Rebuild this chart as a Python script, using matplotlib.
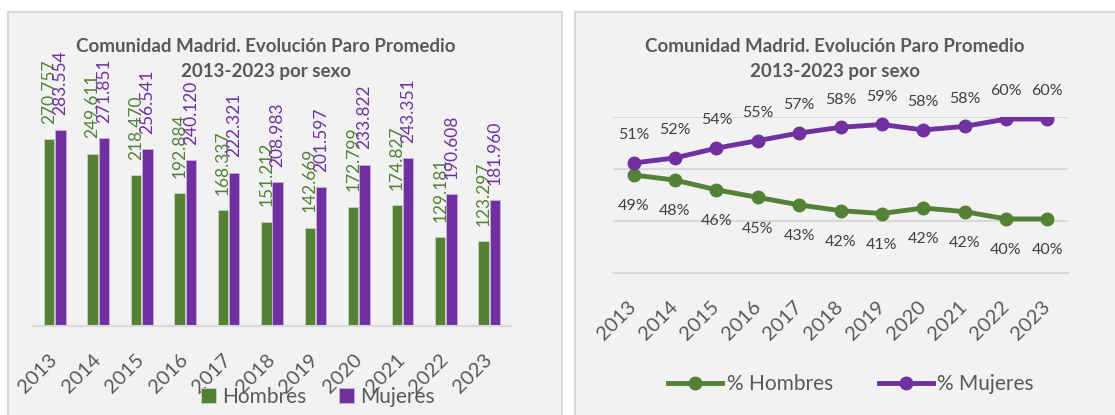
import matplotlib.pyplot as plt
from matplotlib.patches import Rectangle
from matplotlib.lines import Line2D

plt.rcParams['font.family'] = ['Lato', 'DejaVu Sans']

# Datos
anios = ['2013', '2014', '2015', '2016', '2017', '2018', '2019', '2020', '2021', '2022', '2023']
hombres = [270757, 249611, 218470, 192884, 168337, 151212, 142669, 172799, 174827, 129181, 123297]
mujeres = [283554, 271851, 256541, 240120, 222321, 208983, 201597, 233822, 243351, 190608, 181960]
pct_hombres = [0.48846, 0.47868, 0.45993, 0.44545, 0.43091, 0.41980, 0.41442, 0.42496, 0.41807, 0.40396, 0.40391]
pct_mujeres = [0.51154, 0.52132, 0.54007, 0.55455, 0.56909, 0.58020, 0.58558, 0.57504, 0.58193, 0.59604, 0.59609]

titulo = 'Comunidad Madrid. Evolución Paro Promedio\n2013-2023 por sexo'
verde = '#538135'
morado = '#7030A0'
gris_texto = '#595959'
gris_linea = '#d9d9d9'
fondo = '#f2f2f2'

W, H = 1115, 415
fig = plt.figure(figsize=(W / 100, H / 100), dpi=100)
fig.patch.set_facecolor('white')


def px_axes(x0, y0, x1, y1):
    # coordenadas en pixeles (origen arriba-izquierda)
    return [x0 / W, 1 - y1 / H, (x1 - x0) / W, (y1 - y0) / H]


# Paneles de fondo
for x0, x1 in [(8, 562), (575, 1125)]:
    fig.patches.append(Rectangle((x0 / W, -0.05), (x1 - x0) / W, 1 - 12 / H + 0.05,
                                 transform=fig.transFigure, facecolor=fondo,
                                 edgecolor=gris_linea, linewidth=1.5, zorder=-5))

# ---- Grafico de barras ----
ax1 = fig.add_axes(px_axes(33, 119, 511, 326))
ax1.set_facecolor('none')
x = list(range(len(anios)))
ancho = 0.24
b1 = ax1.bar([i - ancho / 2 - 0.01 for i in x], hombres, ancho, color=verde,
             edgecolor='#c5d6b8', linewidth=0.6, label='Hombres')
b2 = ax1.bar([i + ancho / 2 + 0.01 for i in x], mujeres, ancho, color=morado,
             edgecolor='#c9b0dc', linewidth=0.6, label='Mujeres')
for barras, vals, col in [(b1, hombres, verde), (b2, mujeres, morado)]:
    for b, v in zip(barras, vals):
        ax1.annotate(f'{v:,}'.replace(',', '.'), (b.get_x() + b.get_width() / 2, v),
                     xytext=(0, 11), textcoords='offset points', rotation=90,
                     ha='center', va='bottom', color=col, fontsize=12.5,
                     annotation_clip=False)
ax1.set_xlim(-0.5, len(anios) - 0.5)
ax1.set_ylim(0, 300000)
ax1.set_yticks([])
for s in ['top', 'right', 'left']:
    ax1.spines[s].set_visible(False)
ax1.spines['bottom'].set_color(gris_linea)
ax1.spines['bottom'].set_linewidth(1.5)
ax1.set_xticks(x)
ax1.set_xticklabels(anios, rotation=45, ha='right', va='center', rotation_mode='anchor',
                    color=gris_texto, fontsize=14.5)
ax1.tick_params(axis='x', length=0, pad=22)
fig.text(266 / W, 1 - 59 / H, titulo, ha='center', va='center', fontsize=13.5,
         fontweight='bold', color=gris_texto, linespacing=1.55)
fig.legend(handles=[b1, b2], loc='center', bbox_to_anchor=(318 / W, 1 - 397 / H),
           ncol=2, frameon=False, fontsize=15, labelcolor=gris_texto,
           handlelength=0.7, handleheight=0.7, handletextpad=0.3, columnspacing=1.6)

# ---- Grafico de lineas ----
ax2 = fig.add_axes(px_axes(613, 117, 1068, 273))
ax2.set_facecolor('none')
ax2.plot(x, pct_hombres, color=verde, lw=3.5, marker='o', ms=9, label='% Hombres',
         solid_capstyle='round', zorder=3)
ax2.plot(x, pct_mujeres, color=morado, lw=3.5, marker='o', ms=9, label='% Mujeres',
         solid_capstyle='round', zorder=3)
for i in x:
    ax2.annotate(f'{pct_mujeres[i]:.0%}', (i, pct_mujeres[i]), xytext=(0, 20),
                 textcoords='offset points', ha='center', va='center',
                 color='#404040', fontsize=11.5, annotation_clip=False)
    ax2.annotate(f'{pct_hombres[i]:.0%}', (i, pct_hombres[i]), xytext=(0, -22.5),
                 textcoords='offset points', ha='center', va='center',
                 color='#404040', fontsize=11.5, annotation_clip=False)
ax2.set_xlim(-0.5, len(anios) - 0.5)
ax2.set_ylim(0.3, 0.6)
ax2.set_yticks([0.4, 0.5, 0.6])
ax2.yaxis.grid(True, color=gris_linea, linewidth=1.5)
ax2.tick_params(axis='y', length=0, labelleft=False)
for s in ['top', 'right', 'left']:
    ax2.spines[s].set_visible(False)
ax2.spines['bottom'].set_color(gris_linea)
ax2.spines['bottom'].set_linewidth(1.5)
ax2.set_xticks(x)
ax2.set_xticklabels(anios, rotation=45, ha='right', va='center', rotation_mode='anchor',
                    color=gris_texto, fontsize=14.5)
ax2.tick_params(axis='x', length=0, pad=22)
fig.text(835 / W, 1 - 59 / H, titulo, ha='center', va='center', fontsize=13.5,
         fontweight='bold', color=gris_texto, linespacing=1.55)
h1 = Line2D([], [], color=verde, lw=3.5, marker='o', ms=9)
h2 = Line2D([], [], color=morado, lw=3.5, marker='o', ms=9)
fig.legend(handles=[h1, h2], labels=['% Hombres', '% Mujeres'], loc='center',
           bbox_to_anchor=(851 / W, 1 - 384 / H), ncol=2, frameon=False, fontsize=15,
           labelcolor=gris_texto, handlelength=2.6, handletextpad=0.2, columnspacing=2.2)

fig.savefig('out.png', dpi=100, facecolor='white')
